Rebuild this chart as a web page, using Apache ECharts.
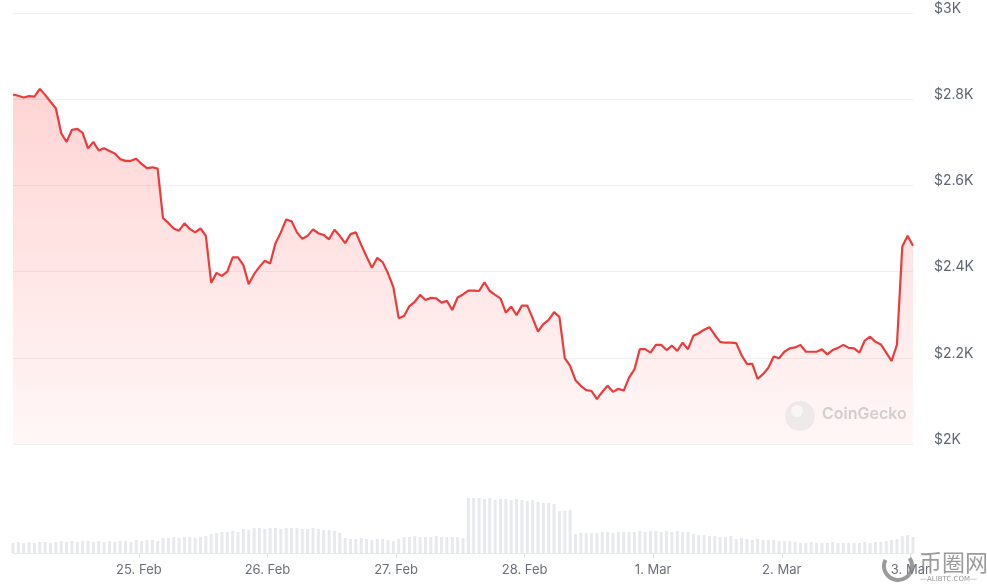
<!DOCTYPE html>
<html>
<head>
<meta charset="utf-8">
<script src="https://cdn.jsdelivr.net/npm/echarts@6/dist/echarts.min.js"></script>
<style>
html,body{margin:0;padding:0;background:#fff;}
#chart{width:987px;height:586px;}
</style>
</head>
<body>
<div id="chart"></div>
<script>
// Hourly ETH price (USD), 24 Feb 00:30 -> 3 Mar 00:30
const prices = [
2811,2808,2804,2807,2806,2824,2810,2794,2779,2721,
2701,2729,2731,2722,2686,2701,2681,2686,2680,2674,
2661,2657,2657,2662,2650,2640,2642,2639,2524,2513,
2500,2495,2512,2499,2491,2500,2483,2374,2397,2390,
2400,2433,2433,2415,2371,2394,2411,2425,2419,2466,
2491,2521,2517,2491,2476,2483,2498,2489,2485,2475,
2497,2483,2466,2487,2491,2462,2435,2409,2432,2422,
2396,2364,2292,2297,2320,2330,2346,2334,2339,2338,
2328,2332,2311,2340,2347,2356,2356,2355,2375,2355,
2346,2338,2305,2319,2299,2321,2321,2292,2261,2278,
2288,2306,2295,2199,2181,2148,2135,2125,2123,2104,
2121,2135,2121,2128,2124,2154,2173,2220,2220,2212,
2230,2230,2218,2228,2216,2235,2220,2251,2257,2265,
2271,2253,2237,2235,2235,2234,2206,2186,2186,2151,
2162,2177,2203,2199,2214,2222,2224,2230,2214,2214,
2214,2220,2208,2218,2223,2230,2223,2222,2212,2240,
2249,2237,2231,2212,2193,2230,2458,2483,2460
];
// Hourly volume (relative units)
const volumes = [
10,11,10,11,10,11,11,10,11,12,11,12,11,12,12,11,12,11,12,11,12,12,11,
13,12,13,13,12,
15,15,16,15,16,16,15,16,17,
19,20,21,21,22,21,
24,23,25,25,24,25,25,24,25,25,25,24,24,25,24,23,23,22,
20,
15,14,14,15,14,13,14,14,13,12,14,
16,16,17,16,16,16,17,16,16,16,16,15,
55,55,55,54,55,53,54,54,53,54,53,52,53,
51,50,50,49,
42,42,43,
19,20,20,20,20,21,21,20,21,21,21,
21,22,21,22,22,21,22,21,22,21,21,
19,18,18,17,17,16,16,17,
14,15,14,13,14,13,13,13,12,12,12,
11,10,10,11,10,10,10,11,10,10,10,10,10,11,10,11,
11,12,13,14,
17,18,16
];
const dayLabels = ['25. Feb','26. Feb','27. Feb','28. Feb','1. Mar','2. Mar','3. Mar'];
const yTicks = [2000,2200,2400,2600,2800,3000];
const yTickLabels = ['$2K','$2.2K','$2.4K','$2.6K','$2.8K','$3K'];

// x = hours since 24 Feb 00:00; first sample at 00:30
const hours = prices.map((_, i) => 0.5 + i);
const dayTicks = dayLabels.map((_, i) => 24 * (i + 1));
const priceData = prices.map((p, i) => [hours[i], p]);
const volData = volumes.map((v, i) => [hours[i], v]);
const xMin = hours[0], xMax = hours[hours.length - 1];

const chart = echarts.init(document.getElementById('chart'), null, {renderer:'canvas'});
const font = 'Inter, "Noto Sans", sans-serif';
chart.setOption({
  animation:false,
  backgroundColor:'#ffffff',
  grid:[
    {left:13, right:74, top:13, bottom:142},
    {left:13, right:74, top:493, bottom:33}
  ],
  xAxis:[
    {type:'value', gridIndex:0, min:xMin, max:xMax, show:false, splitLine:{show:false}},
    {type:'value', gridIndex:1, min:xMin, max:xMax,
      axisLine:{show:true, lineStyle:{color:'#e9e9e9', width:1}},
      axisTick:{show:true, customValues:dayTicks, length:5, lineStyle:{color:'#e3e3e3'}},
      axisLabel:{customValues:dayTicks, color:'#6b6f78', fontSize:13, fontFamily:font, margin:11,
        formatter:function(v){ const k = dayTicks.indexOf(v); return k>=0 ? dayLabels[k] : ''; }},
      splitLine:{show:false}}
  ],
  yAxis:[
    {type:'value', gridIndex:0, position:'right', min:2000, max:3000, interval:200,
      axisLine:{show:false}, axisTick:{show:false},
      axisLabel:{color:'#5f6673', fontSize:14, fontFamily:font, margin:21,
        verticalAlign:'bottom', lineHeight:9,
        formatter:function(v){ const k = yTicks.indexOf(v); return k>=0 ? yTickLabels[k] : ''; }},
      splitLine:{lineStyle:{color:'#efefef', width:1}}},
    {type:'value', gridIndex:1, min:0, max:60, show:false, splitLine:{show:false}}
  ],
  series:[
    {type:'bar', xAxisIndex:1, yAxisIndex:1, data:volData, barWidth:3,
      itemStyle:{color:'#e7e9ed'}, silent:true},
    {type:'line', xAxisIndex:0, yAxisIndex:0, data:priceData, symbol:'none', smooth:false,
      lineStyle:{color:'#eb3b3b', width:2.2},
      areaStyle:{origin:'start', color:new echarts.graphic.LinearGradient(0,0,0,1,[
        {offset:0, color:'rgba(255,95,95,0.38)'},
        {offset:1, color:'rgba(255,95,95,0.07)'}
      ])}}
  ],
  graphic:[
    {type:'circle', shape:{cx:800, cy:416, r:15}, style:{fill:'rgba(220,220,220,0.45)'}, z:10},
    {type:'circle', shape:{cx:797, cy:411, r:6}, style:{fill:'rgba(255,255,255,0.6)'}, z:11},
    {type:'text', x:822, y:406, style:{text:'CoinGecko', fill:'rgba(190,190,190,0.7)', font:'600 16px '+font}, z:10},
    {type:'arc', shape:{cx:898, cy:566, r:14, startAngle:-0.6, endAngle:3.6}, style:{stroke:'rgba(120,120,120,0.75)', lineWidth:4, fill:null}, z:20},
    {type:'text', x:919, y:551, style:{text:'币圈网', fill:'rgba(130,130,130,0.8)', font:'23px "Noto Sans CJK SC", sans-serif'}, z:20},
    {type:'text', x:920, y:576, style:{text:'—ALIBTC.COM—', fill:'rgba(130,130,130,0.8)', font:'7px "DejaVu Sans", sans-serif'}, z:20}
  ]
});
</script>
</body>
</html>
